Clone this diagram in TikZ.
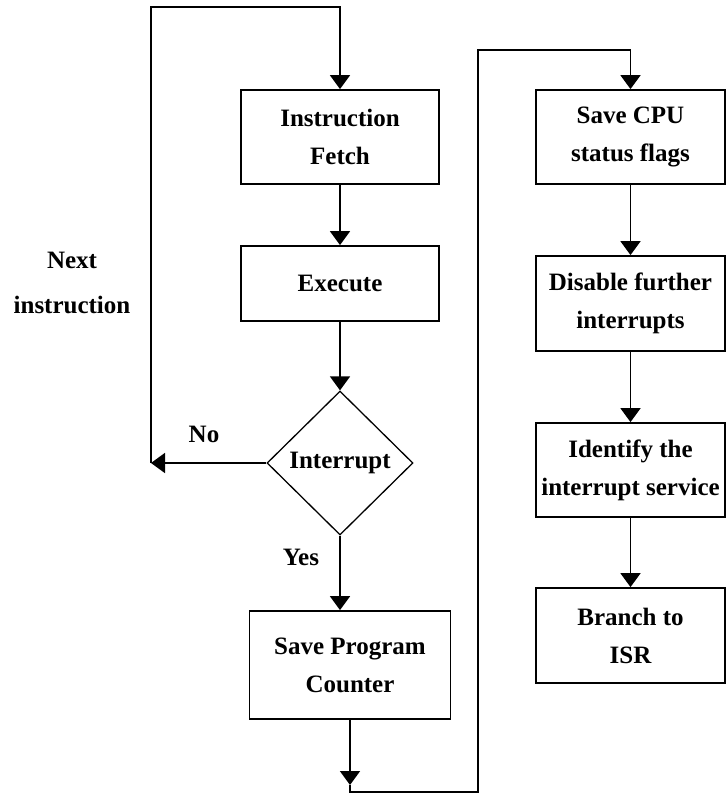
\documentclass[tikz,border=0pt]{standalone}
\usepackage{fontspec}
\setmainfont{Liberation Serif}
\usetikzlibrary{arrows.meta,shapes.geometric}
\begin{document}
\begin{tikzpicture}[
    x=1pt, y=-1pt,
    txt/.style={font=\fontsize{25}{38}\selectfont\bfseries, align=center},
    box/.style={txt, draw, line width=1.8pt, minimum width=198pt, minimum height=94pt, inner sep=0pt},
    rbox/.style={box, minimum width=189pt},
    dec/.style={txt, diamond, draw, line width=1.3pt, minimum width=146pt, minimum height=144pt, inner sep=0pt},
    arr/.style={-{Triangle[width=20pt,length=14pt]}, line width=1.8pt},
]
\useasboundingbox (0,0) rectangle (726,795);

% left column
\node[box] (fetch) at (340,137) {Instruction\\Fetch};
\node[box, minimum height=75pt] (exec) at (340,283.5) {Execute};
\node[dec] (dia) at (340,463) {Interrupt};
\node[box, minimum width=201pt, minimum height=108pt] (spc) at (350,665) {Save Program\\Counter};

% right column
\node[rbox] (scpu) at (630.5,137) {Save CPU\\status flags};
\node[rbox, minimum height=95pt] (dis) at (630.5,303.5) {Disable further\\interrupts};
\node[rbox] (ident) at (630.5,470) {Identify the\\interrupt service};
\node[rbox, minimum height=95pt] (branch) at (630.5,635.5) {Branch to\\ISR};

% labels
\node[txt] (nolbl) at (204,434) {No};
\node[txt] (yeslbl) at (301,557) {Yes};
\node[txt, font=\fontsize{25}{45}\selectfont\bfseries] (nextlbl) at (72,283) {Next\\instruction};

\coordinate (nol) at (151,463);
\coordinate (top) at (fetch.north |- 0,7);
\coordinate (tip) at (spc.south |- 0,785);
\coordinate (bot) at (spc.south |- 0,792);
\coordinate (rise) at (478,50);

\draw[arr] (fetch) -- (exec);
\draw[arr] (exec.south -| dia) -- (dia.north);
\draw[arr] (dia.south) -- (dia.south |- spc.north);
\draw[arr] (dia.west) -- (nol);
\draw[arr] (nol) |- (top) -- (fetch.north);
\draw[arr] (spc.south) -- (tip);
\draw[arr] (tip) -- (bot) -| (rise) -| (scpu.north);

\draw[arr] (scpu) -- (dis);
\draw[arr] (dis) -- (ident);
\draw[arr] (ident) -- (branch);

\end{tikzpicture}
\end{document}
